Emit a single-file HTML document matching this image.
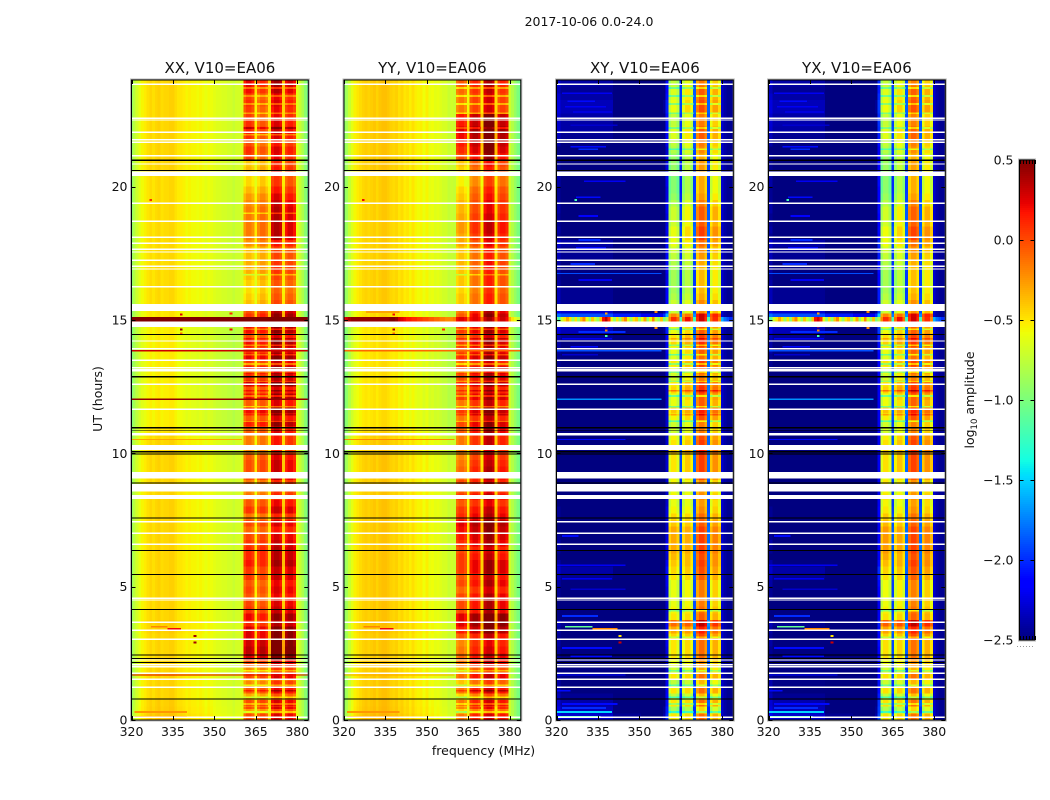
<!DOCTYPE html>
<html>
<head>
<meta charset="utf-8">
<title>2017-10-06 0.0-24.0</title>
<style>
html,body{margin:0;padding:0;background:#fff;width:1050px;height:800px;overflow:hidden}
svg{display:block}
text{font-family:"DejaVu Sans","Liberation Sans",sans-serif;fill:#111}
.tick{font-size:12.5px}
.ptitle{font-size:15px;text-anchor:middle}
.cells{shape-rendering:crispEdges}
</style>
</head>
<body>
<svg id="chart" xmlns="http://www.w3.org/2000/svg" width="1050" height="800" viewBox="0 0 1050 800">
  <text x="589" y="26" text-anchor="middle" style="font-size:12.5px">2017-10-06 0.0-24.0</text>
  <g id="panels"></g>
  <text x="483.5" y="755" text-anchor="middle" style="font-size:12.5px">frequency (MHz)</text>
  <text transform="translate(102,399) rotate(-90)" text-anchor="middle" style="font-size:12.5px">UT (hours)</text>
  <g id="colorbar"></g>
  <text transform="translate(974,400) rotate(-90)" text-anchor="middle" style="font-size:12.5px">log<tspan dy="3" style="font-size:8.5px">10</tspan><tspan dy="-3"> amplitude</tspan></text>
</svg>
<script>
// ---------- axis data ----------
const xTickValues = [320, 335, 350, 365, 380];
const yTickValues = [0, 5, 10, 15, 20];
const colorTickValues = [0.5, 0, -0.5, -1, -1.5, -2, -2.5];
const colorbarXTicks = [0, 0.2, 0.4, 0.6, 0.8, 1];
const panelTitles = ["XX, V10=EA06", "YY, V10=EA06", "XY, V10=EA06", "YX, V10=EA06"];

// channel role, 320..384 MHz: -1 quiet, 0-3 subband, -2 subband gap, -3 upper tail
const channelBand = [
-1,-1,-1,-1,-1,-1,-1,-1,-1,-1,-1,-1,-1,-1,-1,-1,-1,-1,-1,-1,
-1,-1,-1,-1,-1,-1,-1,-1,-1,-1,-1,-1,-1,-1,-1,-1,-1,-1,-1,-1,-1,
0,0,0,0,-2,1,1,1,1,-2,2,2,2,2,-2,3,3,3,3,-3,-3,-3,-3,-3];

// typical log10 amplitude for each channel, 320..384 MHz
const xxSpectrum = [
-.9,-.78,-.68,-.6,-.55,-.52,-.48,-.45,-.48,-.45,-.43,-.47,-.45,-.45,-.43,-.43,-.47,-.5,-.5,-.52,
-.55,-.53,-.55,-.55,-.57,-.55,-.57,-.6,-.57,-.59,-.62,-.64,-.64,-.66,-.66,-.68,-.68,-.72,-.68,-.68,-.65,
-.2,-.1,-.1,-.18,-.55,-.18,-.08,-.08,-.18,-.5,.1,.18,.18,.1,-.45,.03,.12,.12,.03,-.62,-.72,-.82,-.95,-1.1];
const yySpectrum = [
-.95,-.85,-.72,-.62,-.54,-.5,-.47,-.44,-.42,-.44,-.42,-.4,-.44,-.4,-.38,-.38,-.4,-.43,-.45,-.43,
-.48,-.45,-.5,-.48,-.53,-.48,-.53,-.55,-.53,-.58,-.53,-.6,-.58,-.62,-.6,-.64,-.67,-.67,-.72,-.7,-.72,
-.22,-.14,-.14,-.22,-.55,-.05,.03,.03,-.05,-.5,.13,.2,.2,.13,-.45,0,.08,.08,0,-.7,-.8,-.9,-1,-1.1];
const xySpectrum = [
-2.5,-2.5,-2.6,-2.6,-2.6,-2.6,-2.6,-2.6,-2.6,-2.6,-2.6,-2.6,-2.6,-2.6,-2.6,-2.6,-2.6,-2.6,-2.6,-2.6,
-2.6,-2.75,-2.75,-2.75,-2.75,-2.75,-2.75,-2.75,-2.75,-2.75,-2.75,-2.9,-2.9,-2.9,-2.9,-2.9,-2.9,-2.9,-2.9,-2.7,-2.3,
-.73,-.6,-.6,-.73,-2,-.7,-.56,-.56,-.7,-1.9,-.35,-.2,-.2,-.35,-1.9,-.6,-.42,-.42,-.6,-2.3,-2.4,-2.45,-2.45,-2.45];
const yxSpectrum = [
-2.5,-2.5,-2.6,-2.6,-2.6,-2.6,-2.6,-2.6,-2.6,-2.6,-2.6,-2.6,-2.6,-2.6,-2.6,-2.6,-2.6,-2.6,-2.6,-2.6,
-2.6,-2.75,-2.75,-2.75,-2.75,-2.75,-2.75,-2.75,-2.75,-2.75,-2.75,-2.9,-2.9,-2.9,-2.9,-2.9,-2.9,-2.9,-2.9,-2.7,-2.2,
-.73,-.58,-.58,-.73,-1.95,-.7,-.54,-.54,-.7,-1.9,-.35,-.22,-.22,-.35,-1.9,-.6,-.42,-.42,-.6,-2.3,-2.4,-2.45,-2.45,-2.45];

// subband level change for each quarter hour, 0..24 h
const xxGain = [
.1,-.15,.1,-.2,.05,-.1,.1,-.1, .1,.4,.45,.4,.3,.3, .15,.25,.1,.05,0,.05,
0,.1,.1,.2,.2,.2,.15,.1, 0,.1,-.05,.15,.05,-.05,-.1,-.05, .1,.1,.1,.05,-.1,-.05,-.05,.05,
.25,.05,.3,.05,.25,.05,.35,.15,.3,.1,.3,.15,.25,.05,.25,.1,
.3,.2,-.15,-.2,-.25,-.2,-.15,-.1, -.1,-.15,-.15,0,.1,.1,.1,.1, .1,.05,0,-.1,-.2,-.2,-.1,-.15,
0,.05,-.05,.05,.1,.05,0,0,.05,0,.15,.2];
const yyGain = [
.1,-.2,.1,-.2,.1,-.15,.15,-.1, .1,.15,.1,.05,.05,.25, .35,.35,.1,.1,.1,0,
.1,.05,.15,.15,.1,.05,.15,.2, .25,.3,.15,.1,0,.1,0,.05, .1,.1,.05,0,0,.05,.05,.15,
.2,.05,.25,.05,.2,.05,.25,.15,.25,.05,.25,.15,.2,.05,.2,.1,
.25,.15,-.1,-.1,-.15,-.1,-.1,-.1, -.05,-.1,-.1,0,.05,.1,.1,.05, 0,0,-.05,-.1,-.2,-.2,-.1,-.05,
.1,.2,.25,.3,.35,.25,.25,-.05,-.05,-.05,0,.05];
const xyGain = [
.1,-.25,.1,-.15,.1,-.15,.1,-.1, 0,.1,.1,.1,.15,.3, .5,.1,.05,0,0,0,
0,.1,.15,.2,.2,.25,.25,.25, .25,.15,.1,0,-.05,0,-.05,0, .15,.2,.2,.2,.3,.2,.15,0,
0,.15,.3,.1,.15,.3,.25,.05,.15,.25,.1,.15,.3,.25,.15,0,
.5,0,0,-.1,-.15,-.15,-.15,-.15, -.1,-.05,0,.1,.2,.2,.1,.1, .1,0,-.1,-.15,-.15,-.15,-.1,-.1,
-.15,-.05,0,.1,.1,0,0,.15,.15,.1,.1,0];
const yxGain = [
.1,-.22,.1,-.15,.1,-.12,.1,-.1, 0,.1,.1,.1,.15,.3, .52,.1,.05,0,0,0,
0,.1,.15,.22,.2,.25,.25,.25, .25,.15,.1,0,-.05,0,-.05,0, .12,.2,.2,.2,.25,.2,.15,0,
0,.15,.3,.1,.15,.3,.25,.05,.15,.25,.1,.15,.3,.25,.15,0,
.5,0,0,-.1,-.15,-.15,-.15,-.15, -.1,-.05,0,.1,.2,.2,.1,.1, .1,0,-.1,-.15,-.15,-.15,-.1,-.1,
-.15,-.05,0,.1,.1,0,0,.15,.15,.1,.1,0];

// quiet-channel level change for each quarter hour, 0..24 h
const xxQuiet = [
.05,.03,.02,0,0,0,0,0, 0,0,0,0,0,.02, .02,0,0,0,0,0, 0,0,0,0,0,0,0,0, 0,0,0,0,0,0,0,0,
0,0,0,0,0,0,-.02,-.04, -.08,-.08,-.08,-.08,-.08,-.08,-.08,-.08,-.08,-.08,-.08,-.08,-.08,-.08,-.08,-.08,
-.05,-.05,-.02,-.02,-.02,-.02,-.02,-.02, -.02,-.02,-.02,-.02,-.02,-.02,-.02,-.02, -.02,-.02,-.02,-.02,-.02,-.02,0,0,
0,0,0,0,0,0,0,0,0,0,0,0];
const yyQuiet = [
.05,.03,.02,0,0,0,0,0, 0,0,0,0,0,.02, .02,0,0,0,0,0, 0,0,0,0,0,0,0,0, 0,0,0,0,0,0,0,0,
0,0,0,0,0,0,-.02,-.04, -.08,-.08,-.08,-.08,-.08,-.08,-.08,-.08,-.08,-.08,-.08,-.08,-.08,-.08,-.08,-.08,
-.05,-.05,-.02,-.02,-.02,-.02,-.02,-.02, -.02,-.02,-.02,-.02,-.02,-.02,-.02,-.02, -.02,-.02,-.02,-.02,-.02,-.02,0,0,
0,0,0,0,0,0,0,0,0,0,0,0];
const xyQuiet = [
.3,.25,.2,.15,.1,.1,.05,0, .05,.05,.05,.1,.05,.1,.15,0, 0,0,.05,.05,.1,.15,.2,.1, 0,.05,.1,.05,0,0,.05,.05,
0,0,0,0,0,0,0,0, 0,0,0,0,0,0,0,0, 0,0,0,0,0,.05,.05,.1, .1,.15,.25,.3,.7,.3,.15,.15,
.15,.1,.05,.1,.1,.15,.15,.2, .05,.1,.05,.05,.1,.1,.05,.05, .1,.1,.05,.05,.05,0,.1,.15, .2,.2,.2,.25,.25,.2,.15,.2];
const yxQuiet = [
.3,.25,.22,.15,.1,.12,.05,0, .05,.05,.05,.1,.05,.1,.15,0, 0,0,.05,.05,.1,.15,.2,.1, 0,.05,.1,.05,0,0,.05,.05,
0,0,0,0,0,0,0,0, 0,0,0,0,0,0,0,0, 0,0,0,0,0,.05,.05,.1, .1,.15,.25,.3,.7,.3,.15,.15,
.15,.1,.05,.1,.1,.15,.15,.2, .05,.1,.05,.05,.1,.1,.05,.05, .1,.1,.05,.05,.05,0,.1,.15, .2,.22,.2,.25,.25,.2,.15,.2];

// subband offset per three-hour block (0-3 h, 3-6 h, ... 21-24 h), one list per subband
const xxBandShift = [[0,.08,.02,0,.05,-.12,-.15,.15],[0,0,0,0,0,-.08,-.12,0],[0,.05,0,.05,.05,0,.1,.05],[0,.05,0,0,0,0,.05,-.02]];
const yyBandShift = [[-.1,.05,.1,-.05,0,-.15,-.2,.05],[0,.05,.05,0,0,-.05,-.03,.05],[0,.1,.05,.1,.05,.05,.05,.15],[0,.05,0,0,0,0,0,0]];
const xyBandShift = [[0,0,.05,-.1,-.15,-.1,-.2,-.15],[0,0,0,-.05,-.05,-.07,-.1,-.05],[0,.05,0,.05,0,0,.05,.05],[0,0,0,0,0,.05,0,0]];
const yxBandShift = [[0,0,.08,-.1,-.15,-.1,-.2,-.15],[0,0,0,-.05,-.05,-.07,-.1,-.05],[0,.05,0,.05,0,0,.05,.05],[0,0,0,0,0,.05,0,0]];

// fine subband stripes: [hour, level change]
const xxStripes = [[.3,-.35],[.45,.25],[.6,-.3],[.85,-.35],[1.1,.2],[1.3,-.35],[1.5,-.3],[1.85,-.3],[11.2,-.35],[11.45,.2],[11.75,-.35],[12.15,-.3],[12.35,.2],[12.7,-.35],[13.05,-.3],[13.35,-.35],[13.7,-.3],[14.05,-.35],[14.3,.2],[14.65,-.3],[19,-.3],[16.7,-.3],[21.95,-.3],[22.2,.2],[22.75,-.3],[23.1,-.3],[23.4,-.25],[23.7,-.3]];
const yyStripes = [[.3,-.35],[.45,.25],[.6,-.3],[.85,-.35],[1.1,.2],[1.3,-.35],[1.5,-.3],[1.85,-.3],[11.2,-.35],[11.45,.2],[11.75,-.35],[12.15,-.3],[12.35,.2],[12.7,-.35],[13.05,-.3],[13.35,-.35],[13.7,-.3],[14.05,-.35],[14.3,.2],[14.65,-.3],[16.7,-.3],[22.2,-.25],[22.75,-.3],[23.1,-.35],[23.4,-.35],[23.7,-.35]];
const xyStripes = [[.3,-.4],[.6,-.35],[.85,-.4],[1.3,-.35],[1.85,-.35],[11.2,-.4],[11.45,.25],[11.75,-.4],[12.15,-.45],[12.35,.3],[12.7,-.4],[13.05,-.35],[13.35,-.4],[13.7,-.4],[14.05,-.45],[14.3,.2],[14.65,-.4],[22.2,-.35],[22.75,-.4],[23.1,-.35],[23.4,-.4],[23.7,-.4],[21.4,-.35],[3.1,-.3],[4.1,-.4]];
const yxStripes = [[.3,-.4],[.6,-.35],[.85,-.4],[1.3,-.35],[1.85,-.35],[11.2,-.4],[11.45,.25],[11.75,-.4],[12.15,-.45],[12.35,.3],[12.7,-.4],[13.05,-.35],[13.35,-.4],[13.7,-.4],[14.05,-.45],[14.3,.2],[14.65,-.4],[22.2,-.35],[22.75,-.4],[23.1,-.35],[23.4,-.4],[23.7,-.4],[21.4,-.35],[3.1,-.3],[4.1,-.4]];

// streaks in the quiet channels: [hour, first MHz, last MHz, value]
const xxStreaks = [[3.5,327,333,-.2],[3.42,333,338,.2],[.3,321,340,-.25],[.12,321,340,-.3],[14.9,328,345,-.35]];
const yyStreaks = [[3.5,327,333,-.2],[3.42,333,338,.2],[.3,321,340,-.25],[.12,321,340,-.3],[15.3,328,340,-.3]];
const xyStreaks = [[23.5,322,340,-2.2],[23.2,324,334,-2.1],[23,323,338,-2.2],[22.8,326,340,-2.25],[22.3,325,342,-2.3],[21.5,325,338,-2.1],[21.4,328,335,-2],[20.2,330,345,-2.2],[19.6,327,336,-2.1],[18.9,328,335,-2.15],[18,328,336,-2],[17.7,327,338,-2.1],[17.1,325,334,-2],[16.5,328,340,-2.2],[14.3,322,340,-2.2],[14,325,335,-2.1],[14.55,328,345,-2],[13.7,322,335,-2.3],[6.9,322,328,-2.1],[5.8,320,345,-2.2],[5.3,322,340,-2.2],[4.9,325,345,-2.3],[3.9,322,335,-2],[3.5,323,333,-1.1],[3.42,333,342,-.2],[2.7,322,340,-2.1],[2.4,325,340,-2.1],[1.1,320,325,-2.1],[.6,322,342,-2.1],[.45,322,338,-2],[.3,320,340,-1.5],[.12,320,336,-1.2]];
const yxStreaks = [[23.5,322,340,-2.2],[23.2,324,334,-2.1],[23,323,338,-2.2],[22.8,326,340,-2.25],[22.3,325,342,-2.3],[21.5,325,338,-2.1],[21.4,328,335,-2],[20.2,330,345,-2.2],[19.6,327,336,-2.1],[18.9,328,335,-2.15],[18,328,336,-2],[17.7,327,338,-2.1],[17.1,325,334,-2],[16.5,328,340,-2.2],[14.3,322,340,-2.2],[14,325,335,-2.1],[14.55,328,345,-2],[13.7,322,335,-2.3],[6.9,322,328,-2.1],[5.8,320,345,-2.2],[5.3,322,340,-2.2],[4.9,325,345,-2.3],[3.9,322,335,-2],[3.5,323,333,-1.1],[3.42,333,342,-.2],[2.7,322,340,-2.1],[2.4,325,340,-2.1],[1.1,320,325,-2.1],[.6,322,342,-2.1],[.45,322,338,-2],[.3,320,340,-1.5],[.12,320,336,-1.2]];

// interference burst near 15 h, value per channel 320..384 MHz
const xxBurst = [
.5,.5,.5,.5,.5,.5,.5,.5,.5,.5,.5,.5,.5,.5,.5,.5,.5,.5,.5,.5,.5,.5,.5,.5,.5,.5,.5,.5,.5,.5,.5,.5,
.5,.5,.5,.5,.5,.5,.5,.5,.5,.5,.5,.5,.5,.5,.5,.5,.5,.5,.5,.5,.5,.5,.5,.5,.5,.5,.5,.5,.5,.5,.5,.5,.5];
const yyBurst = [
.2,.3,.4,.45,.45,.45,.45,.45,.45,.45,.45,.45,.45,.45,.45,.45,.45,.5,.5,.45,.3,.25,.2,.15,.15,.1,.1,.05,.05,0,
0,-.05,-.05,-.1,-.1,-.15,-.15,-.2,-.2,-.2,-.15,.2,.25,.25,.2,-.1,.2,.25,.25,.2,-.1,.3,.4,.4,.3,-.1,.2,.3,.3,.2,-.3,-.5,-.6,-.7,-.8];
const xyBurst = [
-1,-1.2,-.7,-.5,-.3,-.5,-.9,-.5,-.9,-.4,-.2,-.6,-.9,-.4,-.7,-.9,-.4,.2,.35,.1,-.6,-.9,-.5,-.9,-.4,-.2,-.6,-.9,-.5,-.4,
-.9,-.6,-.3,-.9,-.6,-.2,-.7,-.9,-.4,-1,-.8,-.2,.1,.1,-.1,-1.2,-.1,.2,.2,-.1,-1.2,.1,.3,.3,.1,-1.2,-.1,.1,.1,-.2,-1.6,-1.8,-1.9,-2,-2];
const yxBurst = [
-1.1,-1.1,-.7,-.5,-.3,-.5,-.9,-.5,-.9,-.4,-.2,-.6,-.9,-.4,-.7,-.9,-.4,.2,.3,.1,-.6,-.9,-.5,-.9,-.4,-.2,-.6,-.9,-.5,-.4,
-.9,-.6,-.3,-.9,-.6,-.2,-.7,-.9,-.4,-1,-.8,-.2,.1,.1,-.1,-1.2,-.1,.2,.2,-.1,-1.2,.1,.3,.3,.1,-1.2,-.1,.1,.1,-.2,-1.6,-1.8,-1.9,-2,-2];

// narrow time-slices: [hour, value, last channel MHz]
const xxThinRows = [[13.85,.3,384],[12.03,.45,384],[1.69,.25,384],[10.52,-.3,360]];
const yyThinRows = [[13.85,-.1,384],[10.52,-.2,360],[1.69,-.3,360]];
const xyThinRows = [[13.85,-1.9,358],[12.03,-1.7,358],[10.52,-2.1,345],[1.69,-2.1,345],[16.75,-1.9,358]];
const yxThinRows = [[13.85,-1.9,358],[12.03,-1.7,358],[10.52,-2.1,345],[1.69,-2.1,345],[16.75,-1.9,358]];

// isolated bright samples: [MHz, hour, value]
const xxSpots = [[338,14.65,.45],[338,14.5,-.1],[338,15.2,.25],[356,14.65,.2],[356,14.8,.2],[356,15.25,.1],[343,2.9,.4],[343,3.15,.4],[327,19.5,.1]];
const yySpots = [[338,14.65,.4],[338,14.5,-.1],[338,15.2,.2],[356,14.65,.1],[356,14.8,.1],[327,19.5,.2]];
const xySpots = [[338,14.75,.2],[338,14.6,-.2],[338,14.4,-1.2],[338,15.25,-.3],[356,14.7,-.2],[356,14.85,-.1],[356,15.3,-.2],[343,2.9,.3],[343,3.15,-.5],[327,19.5,-1.2]];
const yxSpots = [[338,14.75,.2],[338,14.6,-.2],[338,14.4,-1.2],[338,15.25,-.3],[356,14.7,-.2],[356,14.85,-.1],[356,15.3,-.2],[343,2.9,.3],[343,3.15,-.5],[327,19.5,-1.2]];

// flagged time ranges, hours: wide white gaps, then single-sample white gaps, then black slices
const flaggedRanges = [[20.40,20.56],[15.33,15.60],[14.74,14.94],[13.06,13.16],[10.67,10.76],[10.13,10.31],[9.12,9.30],[8.56,8.85],[8.29,8.44]];
const flaggedSamples = [23.84,22.56,22.5,22.04,21.76,21.66,21.16,20.85,19.38,18.7,18.1,17.88,17.65,17.55,17.24,17.01,16.91,16.25,14.21,13.92,13.49,13.21,12.59,11.65,9.08,7.43,7,6.59,4.56,4.5,3.66,3.36,3.03,2.25,2.07,2,1.75,1.53,1.23,.1];
const blackRanges = [[20.97,21.01],[20.59,20.63],[14.44,14.48],[12.84,12.9],[10.93,10.99],[10.83,10.86],[10.04,10.08],[9.96,10],[8.86,8.9],[7.56,7.6],[6.34,6.38],[5.44,5.48],[4.13,4.17],[2.41,2.45],[2.29,2.33],[2.14,2.18],[.76,.8]];

// ---------- layout ----------
const frameTop = 80, frameHeight = 640, frameWidth = 176.8, hoursSpan = 24, mhzStart = 320, mhzSpan = 64;
const panelLefts = [131.5, 344, 556.5, 768.5];
const panelSeries = [
 {spectrum:xxSpectrum,gain:xxGain,quiet:xxQuiet,shift:xxBandShift,stripes:xxStripes,streaks:xxStreaks,burst:xxBurst,thin:xxThinRows,spots:xxSpots,key:"xx"},
 {spectrum:yySpectrum,gain:yyGain,quiet:yyQuiet,shift:yyBandShift,stripes:yyStripes,streaks:yyStreaks,burst:yyBurst,thin:yyThinRows,spots:yySpots,key:"yy"},
 {spectrum:xySpectrum,gain:xyGain,quiet:xyQuiet,shift:xyBandShift,stripes:xyStripes,streaks:xyStreaks,burst:xyBurst,thin:xyThinRows,spots:xySpots,key:"xy"},
 {spectrum:yxSpectrum,gain:yxGain,quiet:yxQuiet,shift:yxBandShift,stripes:yxStripes,streaks:yxStreaks,burst:yxBurst,thin:yxThinRows,spots:yxSpots,key:"yx"}
];
const SVGNS = "http://www.w3.org/2000/svg";
const yScale = h => frameTop + frameHeight - h / hoursSpan * frameHeight;
const cScale = v => Math.min(1, Math.max(0, (v + 2.5) / 3));

function ramp(t, pts){
  for (let i = 1; i < pts.length; i++) {
    if (t <= pts[i][0]) {
      const a = pts[i-1], b = pts[i];
      return a[1] + (b[1]-a[1]) * (t-a[0]) / (b[0]-a[0]);
    }
  }
  return pts[pts.length-1][1];
}
const jetR = [[0,0],[.35,0],[.66,1],[.89,1],[1,.5]];
const jetG = [[0,0],[.125,0],[.375,1],[.64,1],[.91,0],[1,0]];
const jetB = [[0,.5],[.11,1],[.34,1],[.65,0],[1,0]];
function jet(v){
  const t = cScale(v);
  return "rgb(" + Math.round(255*ramp(t,jetR)) + "," + Math.round(255*ramp(t,jetG)) + "," + Math.round(255*ramp(t,jetB)) + ")";
}
function mk(tag, attrs, parent){
  const el = document.createElementNS(SVGNS, tag);
  for (const k in attrs) el.setAttribute(k, attrs[k]);
  parent.appendChild(el);
  return el;
}
function cellValue(s, r, c){
  const band = channelBand[c], base = s.spectrum[c];
  if (band >= 0) return base + (s.gain[r] || 0) + s.shift[band][Math.floor(r / 12)];
  if (band === -1) return base + (s.quiet[r] || 0);
  if (band === -2) return base + (s.gain[r] || 0) * 0.4;
  return base;
}

const panelsRoot = document.getElementById("panels");
const defs = mk("defs", {}, panelsRoot);

panelSeries.forEach(function(s, p){
  const left = panelLefts[p];
  const xScale = m => left + (m - mhzStart) / mhzSpan * frameWidth;
  const chW = frameWidth / mhzSpan;
  const rows = s.gain.length;

  const clip = mk("clipPath", {id:"clip-" + s.key}, defs);
  mk("rect", {x:left, y:frameTop, width:frameWidth, height:frameHeight}, clip);

  const g = mk("g", {}, panelsRoot);
  
  

  const img = mk("g", {"clip-path":"url(#clip-" + s.key + ")", "class":"cells"}, g);
  
  

  const rowH = hoursSpan / rows;
  for (let r = 0; r < rows; r++) {
    for (let c = 0; c < s.spectrum.length; c++) {
      const mhz = mhzStart + c;
      const cell = mk("rect", {x:(xScale(mhz-0.5)).toFixed(2), y:yScale((r+1)*rowH).toFixed(2), width:(chW+0.05).toFixed(2), height:(frameHeight/rows+0.05).toFixed(2), fill:jet(cellValue(s,r,c))}, img);
      
      
    }
  }
  s.stripes.forEach(function(d){
    const r = Math.min(rows-1, Math.floor(d[0] / rowH));
    s.spectrum.forEach(function(base, c){
      if (channelBand[c] < 0) return;
      const st = mk("rect", {x:xScale(mhzStart+c-0.5), y:yScale(d[0]+0.03), width:chW+0.05, height:yScale(d[0]-0.03)-yScale(d[0]+0.03), fill:jet(cellValue(s,r,c)+d[1])}, img);
      
      
    });
  });
  s.streaks.forEach(function(d){
    const st = mk("rect", {x:xScale(d[1]), y:yScale(d[0]+0.03), width:xScale(d[2])-xScale(d[1]), height:yScale(d[0]-0.03)-yScale(d[0]+0.03), fill:jet(d[3])}, img);
    
    
  });
  s.thin.forEach(function(t){
    const line = mk("rect", {x:left, y:yScale(t[0]+0.02), width:xScale(t[2])-left, height:1.2, fill:jet(t[1])}, img);
    
    
  });
  s.burst.forEach(function(v, c){
    const cell = mk("rect", {x:xScale(mhzStart+c-0.5), y:yScale(15.11), width:chW+0.05, height:yScale(14.94)-yScale(15.11), fill:jet(v)}, img);
    
    
  });
  s.spots.forEach(function(d){
    const spot = mk("rect", {x:xScale(d[0]-0.5), y:yScale(d[1]+0.04), width:chW, height:yScale(d[1]-0.04)-yScale(d[1]+0.04), fill:jet(d[2])}, img);
    
    
  });
  flaggedRanges.forEach(function(d){
    const gap = mk("rect", {x:left, y:yScale(d[1]), width:frameWidth, height:yScale(d[0])-yScale(d[1]), fill:"#fff"}, img);
    
    
  });
  flaggedSamples.forEach(function(h){
    const gap = mk("rect", {x:left, y:yScale(h+0.025), width:frameWidth, height:yScale(h-0.025)-yScale(h+0.025), fill:"#fff"}, img);
    
    
  });
  blackRanges.forEach(function(d){
    const bar = mk("rect", {x:left, y:yScale(d[1]), width:frameWidth, height:yScale(d[0])-yScale(d[1]), fill:"#000"}, img);
    
    
  });

  const halo = mk("rect", {x:left-0.5, y:frameTop-0.5, width:frameWidth+1, height:frameHeight+1, fill:"none", stroke:"#b8b8b8", "stroke-width":2}, g);
  
  
  const frame = mk("rect", {x:left, y:frameTop, width:frameWidth, height:frameHeight, fill:"none", stroke:"#000", "stroke-width":1}, g);
  
  

  const title = mk("text", {x:left+frameWidth/2, y:frameTop-7, "class":"ptitle"}, g);
  
  
  title.textContent = panelTitles[p];

  xTickValues.forEach(function(v){
    const x = Math.round(xScale(v)) + 0.5;
    [[frameTop, frameTop+4],[frameTop+frameHeight-4, frameTop+frameHeight]].forEach(function(e){
      const tick = mk("line", {x1:x, x2:x, y1:e[0], y2:e[1], stroke:"#000", "stroke-width":1}, g);
      
      
    });
    const label = mk("text", {x:xScale(v), y:frameTop+frameHeight+16, "text-anchor":"middle", "class":"tick"}, g);
    
    
    label.textContent = v;
  });
  yTickValues.forEach(function(v){
    const y = Math.round(yScale(v)) + 0.5;
    [[left, left+4],[left+frameWidth-4, left+frameWidth]].forEach(function(e){
      const tick = mk("line", {x1:e[0], x2:e[1], y1:y, y2:y, stroke:"#000", "stroke-width":1}, g);
      
      
    });
    const label = mk("text", {x:left-4, y:yScale(v)+4.5, "text-anchor":"end", "class":"tick"}, g);
    
    
    label.textContent = v;
  });
});

// ---------- colorbar ----------
const cbRoot = document.getElementById("colorbar");
const cbLeft = 1019.5, cbWidth = 15, cbTop = 160, cbHeight = 480;
const cbY = v => cbTop + (0.5 - v) / 3 * cbHeight;
const cbStrip = mk("g", {"class":"cells"}, cbRoot);


for (let i = 0; i < 240; i++) {
  const v = 0.5 - (i + 0.5) / 240 * 3;
  const seg = mk("rect", {x:cbLeft, y:cbTop + i*2, width:cbWidth, height:2.1, fill:jet(v)}, cbStrip);
  
  
}
const cbHalo = mk("rect", {x:cbLeft-0.5, y:cbTop-0.5, width:cbWidth+1, height:cbHeight+1, fill:"none", stroke:"#b8b8b8", "stroke-width":2}, cbRoot);


const cbFrame = mk("rect", {x:cbLeft, y:cbTop, width:cbWidth, height:cbHeight, fill:"none", stroke:"#000", "stroke-width":1}, cbRoot);


colorTickValues.forEach(function(v){
  const y = Math.round(cbY(v)) + 0.5;
  if (v !== 0.5 && v !== -2.5) {
    [[cbLeft, cbLeft+4],[cbLeft+cbWidth-4, cbLeft+cbWidth]].forEach(function(e){
      const tick = mk("line", {x1:e[0], x2:e[1], y1:y, y2:y, stroke:"#000", "stroke-width":1}, cbRoot);
      
      
    });
  }
  const label = mk("text", {x:cbLeft-6, y:cbY(v)+4.5, "text-anchor":"end", "class":"tick"}, cbRoot);
  
  
  label.textContent = (v < 0 ? "\u2212" : "") + Math.abs(v).toFixed(1);
});
colorbarXTicks.forEach(function(f){
  const x = Math.round(cbLeft + f * cbWidth) + 0.5;
  [[cbTop, cbTop+4],[cbTop+cbHeight-4, cbTop+cbHeight]].forEach(function(e){
    const tick = mk("line", {x1:x, x2:x, y1:e[0], y2:e[1], stroke:"#000", "stroke-width":1}, cbRoot);
    
    
  });
});
const cbDots = mk("line", {x1:1017, x2:1035, y1:646.5, y2:646.5, stroke:"#999", "stroke-width":1, "stroke-dasharray":"1 2"}, cbRoot);


</script>
</body>
</html>
